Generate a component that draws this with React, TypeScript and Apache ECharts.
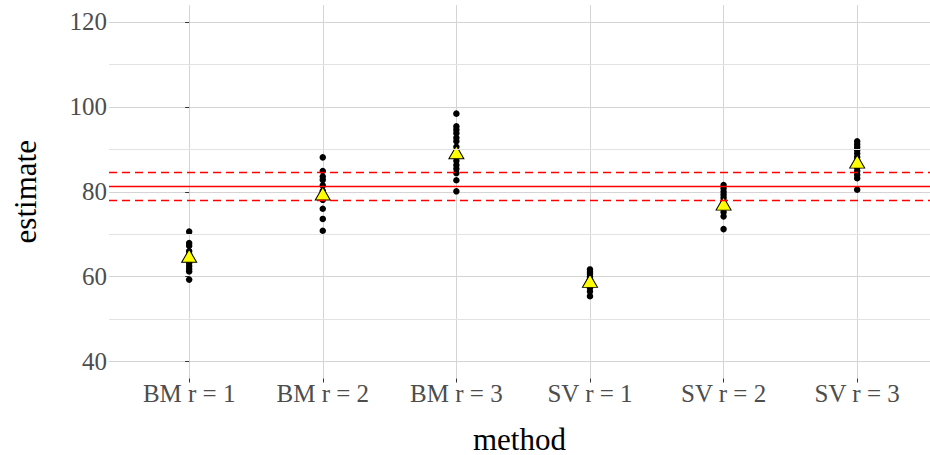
import React, { useEffect, useRef } from "react";
import * as echarts from "echarts";

const categories = ["BM r = 1", "BM r = 2", "BM r = 3", "SV r = 1", "SV r = 2", "SV r = 3"];
const bmR1 = [70.6, 67.9, 67.3, 66.0, 65.2, 64.0, 63.2, 62.5, 61.8, 61.2, 59.3];
const bmR2 = [88.1, 84.9, 83.6, 82.8, 81.5, 80.2, 78.1, 76.0, 73.6, 70.8];
const bmR3 = [98.4, 95.4, 94.6, 93.8, 92.7, 91.9, 90.6, 89.3, 88.3, 87.3, 86.3, 85.4, 84.4, 82.7, 80.1];
const svR1 = [61.7, 61.1, 60.6, 60.0, 59.4, 58.8, 58.1, 57.3, 56.5, 55.4];
const svR2 = [81.6, 80.8, 80.0, 79.3, 78.6, 77.8, 76.9, 76.0, 75.2, 74.2, 71.2];
const svR3 = [91.9, 91.2, 90.5, 89.8, 89.0, 88.2, 87.4, 86.6, 85.7, 84.9, 84.0, 83.2, 80.5];
const groupValues = [bmR1, bmR2, bmR3, svR1, svR2, svR3];
const means = [64.9, 79.6, 89.3, 59.0, 77.2, 87.1];
const yTicks = [40, 60, 80, 100, 120];
const yMinorTicks = [50, 70, 90, 110];
const refCenter = 81.4;
const refBand = [78.1, 84.7];

const FONT = "'Liberation Serif', 'DejaVu Serif', serif";

export default function App() {
  const ref = useRef<HTMLDivElement>(null);
  useEffect(() => {
    if (!ref.current) return;
    const chart = echarts.init(ref.current, undefined, { renderer: "svg" });
    const xIdx = categories.map((_, i) => i);
    const points: [number, number][] = [];
    groupValues.forEach((vals, i) => vals.forEach((v) => points.push([i, v])));
    const meanPts = means.map((m, i) => [i, m]);
    chart.setOption({
      animation: false,
      grid: { left: 109, right: 0, top: 5, bottom: 76.5, containLabel: false, outerBoundsMode: "none" },
      xAxis: {
        type: "value",
        min: -0.6,
        max: 5.545,
        name: "method",
        nameLocation: "middle",
        nameGap: 45,
        nameTextStyle: { fontFamily: FONT, fontSize: 31, lineHeight: 31, color: "#000" },
        axisLine: { show: false },
        axisTick: { show: true, inside: false, customValues: xIdx, length: 4, lineStyle: { color: "#333", width: 1 } },
        axisLabel: {
          customValues: xIdx,
          formatter: (v: number) => categories[Math.round(v)] ?? "",
          fontFamily: FONT,
          fontSize: 25,
          color: "#4d4d4d",
          margin: 2,
        },
        splitLine: { show: true, lineStyle: { color: "#d4d4d4", width: 1 } },
      },
      yAxis: {
        type: "value",
        min: 36,
        max: 124,
        name: "estimate",
        nameLocation: "middle",
        nameGap: 68,
        nameTextStyle: { fontFamily: FONT, fontSize: 31, color: "#000" },
        axisLine: { show: false },
        axisTick: { show: true, inside: false, customValues: yTicks, length: 4, lineStyle: { color: "#333", width: 1 } },
        axisLabel: {
          customValues: yTicks,
          fontFamily: FONT,
          fontSize: 25,
          color: "#4d4d4d",
          margin: 2,
        },
        splitLine: { show: true, lineStyle: { color: "#d4d4d4", width: 1 } },
      },
      series: [
        {
          type: "line",
          data: [],
          z: 0,
          silent: true,
          markLine: {
            silent: true,
            symbol: "none",
            label: { show: false },
            lineStyle: { color: "#e3e3e3", width: 1, type: "solid", opacity: 1 },
            data: yMinorTicks.map((v) => ({ yAxis: v })),
          },
        },
        {
          type: "scatter",
          data: points,
          symbol: "circle",
          symbolSize: 6.5,
          itemStyle: { color: "#000", opacity: 1 },
          z: 2,
        },
        {
          type: "line",
          data: [],
          z: 3,
          silent: true,
          markLine: {
            silent: true,
            symbol: "none",
            label: { show: false },
            data: [
              { yAxis: refCenter, lineStyle: { color: "#ff0000", width: 1.4, type: "solid", opacity: 1 } },
              ...refBand.map((v) => ({
                yAxis: v,
                lineStyle: { color: "#ff0000", width: 1.4, type: [8, 5], opacity: 1 },
              })),
            ],
          },
        },
        {
          type: "scatter",
          data: meanPts,
          symbol: "triangle",
          symbolSize: [15, 13],
          itemStyle: { color: "#ffff00", borderColor: "#000", borderWidth: 1, opacity: 1 },
          z: 4,
        },
      ],
    });
    return () => chart.dispose();
  }, []);
  return (
    <div
      ref={ref}
      style={{ position: "fixed", left: 0, top: 0, width: 930, height: 455, background: "#fff" }}
    />
  );
}
